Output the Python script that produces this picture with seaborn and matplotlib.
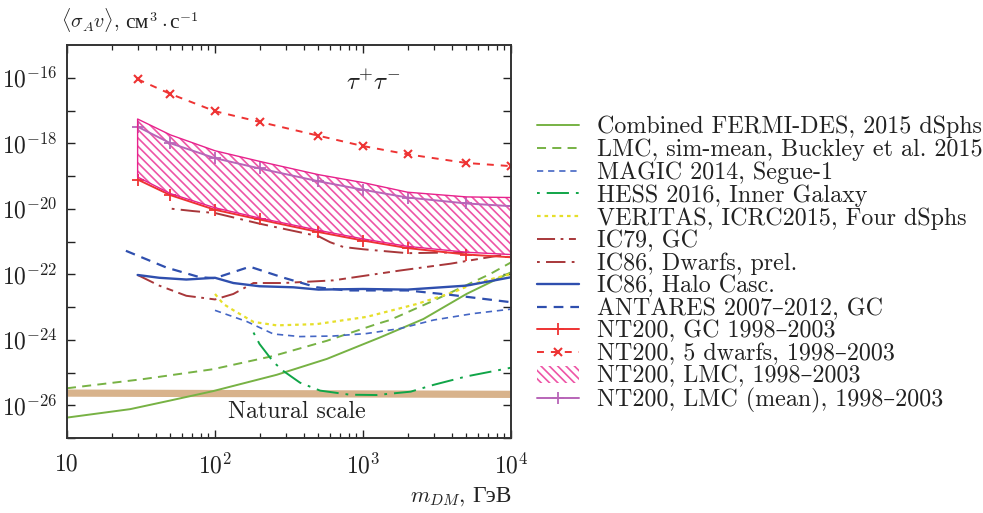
import numpy as np
import pandas as pd
import matplotlib
matplotlib.use("Agg")
import matplotlib.pyplot as plt
import matplotlib.ticker as mticker
from matplotlib.offsetbox import TextArea, HPacker, AnchoredOffsetbox, DrawingArea
import seaborn as sns

# ---- data: dark matter mass (GeV) and <sigma v> upper limits (cm^3/s) ----
m_fermi = [10, 26.7, 50, 97, 261, 570, 1300, 2560, 5000, 10000]
sv_fermi = [4.2e-27, 7.6e-27, 1.4e-26, 2.7e-26, 8.5e-26, 2.6e-25, 1.17e-24, 4.3e-24, 2.5e-23, 1.15e-22]

m_lmc_buckley = [10, 32.8, 97, 248, 570, 1233, 1520, 2820, 7240, 10000]
sv_lmc_buckley = [3.3e-26, 6.3e-26, 1.26e-25, 3.2e-25, 9.3e-25, 3.0e-24, 4.0e-24, 1.38e-23, 1.02e-22, 2.3e-22]

m_magic = [100, 164, 248, 375, 630, 1060, 1780, 3000, 5560, 10000]
sv_magic = [7.9e-24, 3.6e-24, 1.5e-24, 1.25e-24, 1.3e-24, 1.55e-24, 2.2e-24, 4.0e-24, 6.3e-24, 8.6e-24]

m_hess = [182, 200, 248, 289, 375, 513, 815, 1233, 2100, 3000, 5000, 10000]
sv_hess = [1.66e-24, 7.4e-25, 2.1e-25, 1.12e-25, 4.9e-26, 2.8e-26, 2.1e-26, 2.05e-26, 2.6e-26, 4.2e-26, 7.6e-26, 1.4e-25]

m_veritas = [100, 114, 133, 182, 261, 486, 1060, 2300, 4070, 5560, 10000]
sv_veritas = [2.5e-23, 1.23e-23, 8.0e-24, 3.5e-24, 2.75e-24, 3.0e-24, 5.0e-24, 1.23e-23, 2.8e-23, 5.1e-23, 1.02e-22]

m_ic79 = [30, 42, 64, 100, 133, 182, 289, 630, 1780, 3900, 10000]
sv_ic79 = [9.5e-23, 4.5e-23, 2.2e-23, 1.7e-23, 2.5e-23, 5.4e-23, 5.4e-23, 6.5e-23, 1.3e-22, 2.1e-22, 4.3e-22]

m_ic86_dw = [51, 71, 100, 200, 500, 600, 736, 1000, 2000, 5000, 10000]
sv_ic86_dw = [1.0e-20, 8.5e-21, 7.4e-21, 3.5e-21, 1.45e-21, 9.5e-22, 6.8e-22, 5.8e-22, 4.4e-22, 4.7e-22, 5.4e-22]

m_ic86_halo = [30, 42, 64, 100, 133, 200, 338, 500, 1000, 2000, 5000, 10000]
sv_ic86_halo = [9.5e-23, 7.8e-23, 6.9e-23, 7.8e-23, 5.4e-23, 4.3e-23, 4.0e-23, 3.4e-23, 3.55e-23, 3.4e-23, 4.5e-23, 8.1e-23]

m_antares = [25, 47, 79, 100, 172, 289, 486, 776, 2000, 3900, 10000]
sv_antares = [5.2e-22, 1.6e-22, 8.1e-23, 7.6e-23, 1.7e-22, 7.9e-23, 4.0e-23, 3.2e-23, 3.2e-23, 2.35e-23, 1.4e-23]

m_nt200 = [30, 50, 100, 200, 500, 1000, 2000, 5000, 10000]
sv_nt200_gc = [7.8e-20, 2.6e-20, 9.3e-21, 4.7e-21, 1.95e-21, 1.07e-21, 6.3e-22, 4.0e-22, 3.3e-22]
sv_nt200_dw = [9.0e-17, 3.2e-17, 9.5e-18, 4.5e-18, 1.7e-18, 8.2e-19, 4.6e-19, 2.5e-19, 2.0e-19]
sv_nt200_lmc_hi = [5.5e-18, 1.8e-18, 5.9e-19, 2.8e-19, 1.1e-19, 6.3e-20, 3.2e-20, 2.3e-20, 2.2e-20]
sv_nt200_lmc_lo = [9.3e-20, 2.9e-20, 1.07e-20, 5.2e-21, 2.2e-21, 1.2e-21, 7.1e-22, 4.7e-22, 4.0e-22]
sv_nt200_lmc_mean = [3.2e-18, 1.0e-18, 3.5e-19, 1.7e-19, 6.9e-20, 3.8e-20, 2.2e-20, 1.45e-20, 1.2e-20]

m_natural = [10, 10000]
sv_natural = [2.35e-26, 2.15e-26]

x_tick_vals = [10, 100, 1000, 10000]
x_tick_labels = ["10", r"$10^2$", r"$10^3$", r"$10^4$"]

# ---- style ----
sns.set_theme(style="ticks")
plt.rcParams["font.family"] = ["cmr10", "DejaVu Serif"]
plt.rcParams["mathtext.fontset"] = "cm"
plt.rcParams["axes.formatter.use_mathtext"] = True
plt.rcParams["lines.scale_dashes"] = False
plt.rcParams["hatch.linewidth"] = 1.2

fig = plt.figure(figsize=(9.83, 5.13), dpi=100)
ax = fig.add_axes([67 / 983, 1 - 438 / 513, 444 / 983, 393 / 513])
ax.set_xscale("log")
ax.set_yscale("log")

c_green = "#77b244"
c_hess = "#10a548"
c_blue_magic = "#4466c4"
c_blue = "#2f4fae"
c_yellow = "#e6df2a"
c_brown = "#a8373a"
c_red = "#ee3333"
c_pink = "#e8228c"
c_hatch = "#ee55a6"
c_purple = "#b865b8"
lw = 1.4


def draw(m, sv, **kw):
    df = pd.DataFrame({"m": m, "sv": sv})
    color = kw.get("color")
    kw.setdefault("markeredgecolor", color)
    sns.lineplot(data=df, x="m", y="sv", ax=ax, estimator=None, sort=False, legend=False,
                 linewidth=kw.pop("linewidth", lw), **kw)
    return ax.lines[-1]


# natural scale band
draw(m_natural, sv_natural, color="#d8b38c", linewidth=5.2, solid_capstyle="butt")

h_fermi = draw(m_fermi, sv_fermi, color=c_green, label="Combined FERMI-DES, 2015 dSphs")
h_buck = draw(m_lmc_buckley, sv_lmc_buckley, color=c_green, linestyle=(0, (6.5, 4.5)),
              label="LMC, sim-mean, Buckley et al. 2015")
h_magic = draw(m_magic, sv_magic, color=c_blue_magic, linestyle=(0, (4.5, 3.5)), linewidth=1.2,
               label="MAGIC 2014, Segue-1")
h_hess = draw(m_hess, sv_hess, color=c_hess, linestyle=(0, (2, 5, 16, 5)),
              label="HESS 2016, Inner Galaxy")
h_ver = draw(m_veritas, sv_veritas, color=c_yellow, linestyle=(0, (2.6, 2.8)), linewidth=1.6,
             label="VERITAS, ICRC2015, Four dSphs")
h_ic79 = draw(m_ic79, sv_ic79, color=c_brown, linestyle=(0, (13, 4, 2, 4, 5, 4)),
              label="IC79, GC")
h_ic86d = draw(m_ic86_dw, sv_ic86_dw, color=c_brown, linestyle=(0, (2, 4.5, 14, 4.5)),
               label="IC86, Dwarfs, prel.")
h_halo = draw(m_ic86_halo, sv_ic86_halo, color=c_blue, linewidth=1.7, label="IC86, Halo Casc.")
h_ant = draw(m_antares, sv_antares, color=c_blue, linestyle=(0, (7, 5)), linewidth=1.6,
             label="ANTARES 2007\u20132012, GC")

band = ax.fill_between(m_nt200, sv_nt200_lmc_lo, sv_nt200_lmc_hi, facecolor="white",
                       edgecolor=c_hatch, hatch="\\\\\\\\", linewidth=0, zorder=2,
                       label="NT200, LMC, 1998\u20132003")
ax.fill_between(m_nt200, sv_nt200_lmc_lo, sv_nt200_lmc_hi, facecolor="none",
                edgecolor=c_pink, linewidth=1.0, zorder=2.1)
h_gc = draw(m_nt200, sv_nt200_gc, color=c_red, marker="+", markersize=8, markeredgewidth=1.3,
            label="NT200, GC 1998\u20132003")
h_dw = draw(m_nt200, sv_nt200_dw, color=c_red, linestyle=(0, (5, 5)), marker="x", markersize=6,
            markeredgewidth=1.5, label="NT200, 5 dwarfs, 1998\u20132003")
h_mean = draw(m_nt200, sv_nt200_lmc_mean, color=c_purple, marker="+", markersize=8,
              markeredgewidth=1.3, label="NT200, LMC (mean), 1998\u20132003")

# ---- axes ----
ax.set_xlim(10, 1e4)
ax.set_ylim(1e-27, 1e-15)
ax.set_xticks(x_tick_vals)
ax.set_xticklabels(x_tick_labels)
ax.xaxis.set_minor_locator(mticker.LogLocator(base=10, subs=np.arange(2, 10)))
ax.xaxis.set_minor_formatter(mticker.NullFormatter())
y_ticks = [10.0 ** e for e in range(-27, -15)]
ax.set_yticks(y_ticks)
ax.set_yticklabels([r"$10^{%d}$" % e if e % 2 == 0 else "" for e in range(-27, -15)])
ax.yaxis.set_minor_locator(mticker.NullLocator())
ax.tick_params(which="both", direction="in", top=True, right=True, colors="#222222",
               labelcolor="#222222")
ax.tick_params(which="major", length=6, width=1.0, labelsize=17, pad=7)
ax.tick_params(axis="x", which="major", pad=11)
ax.tick_params(which="minor", length=3.5, width=0.9)
for s in ax.spines.values():
    s.set_linewidth(1.4)
    s.set_color("#333333")
ax.set_xlabel("")
ax.set_ylabel("")


def label_row(pieces, x, y, ha_loc, size):
    """Pack math pieces, Cyrillic pieces and gaps on a common baseline."""
    areas = []
    for item in pieces:
        if isinstance(item, (int, float)):
            areas.append(DrawingArea(item, 1, 0, 0))
            continue
        txt, cyr = item
        props = dict(fontsize=size, color="#222222")
        if cyr:
            props.update(family="Liberation Serif", fontsize=size + 1)
        areas.append(TextArea(txt, textprops=props))
    box = HPacker(children=areas, align="baseline", pad=0, sep=0)
    anch = AnchoredOffsetbox(loc=ha_loc, child=box, pad=0, borderpad=0, frameon=False,
                             bbox_to_anchor=(x, y), bbox_transform=fig.transFigure)
    fig.add_artist(anch)


label_row([(r"$\langle\sigma_A v\rangle,$", False), 4, ("см", True), (r"$^3$", False), 2,
           (r"$\cdot$", False), 2, ("с", True), (r"$^{-1}$", False)],
          199 / 983, 1 - 34 / 513, "lower right", 14.5)
label_row([(r"$m_{DM},$", False), 5, ("ГэВ", True)], 512 / 983, 1 - 508 / 513,
          "lower right", 16)

ax.text(0.689, 0.905, r"$\tau^{+}\tau^{-}$", transform=ax.transAxes, fontsize=18,
        ha="center", va="center", color="#222222")
ax.text(0.517, 0.066, "Natural scale", transform=ax.transAxes, fontsize=17.2,
        ha="center", va="center", color="#222222")

handles = [h_fermi, h_buck, h_magic, h_hess, h_ver, h_ic79, h_ic86d, h_halo, h_ant,
           h_gc, h_dw, band, h_mean]
labels = [h.get_label() for h in handles]
leg = fig.legend(handles, labels, loc="upper left", bbox_to_anchor=(537 / 983, 1 - 116 / 513),
                 frameon=False, fontsize=17.3, handlelength=1.75, handletextpad=0.75,
                 labelspacing=0.012, borderaxespad=0, borderpad=0, numpoints=1)
for t in leg.get_texts():
    t.set_color("#222222")

fig.savefig("out.png", dpi=100)
